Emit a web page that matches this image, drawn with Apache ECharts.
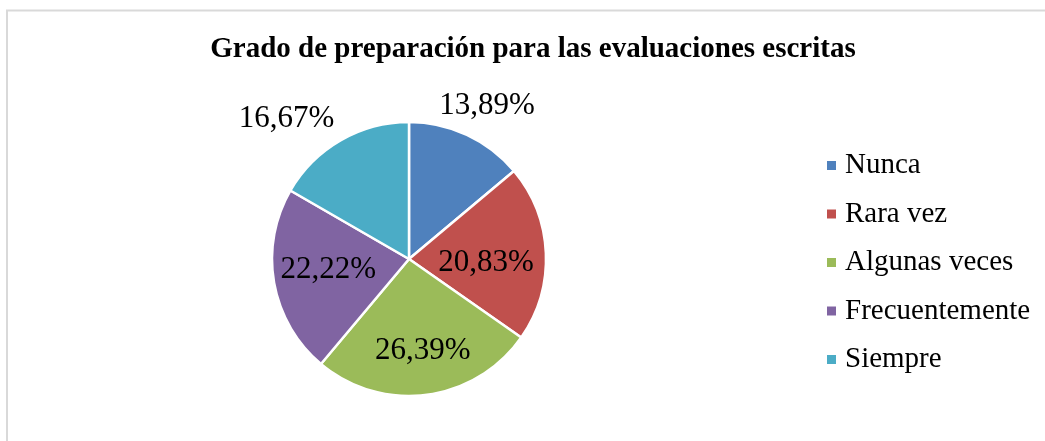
<!DOCTYPE html>
<html><head><meta charset="utf-8">
<script src="https://cdn.jsdelivr.net/npm/echarts@6/dist/echarts.min.js"></script>
<style>html,body{margin:0;padding:0;background:#fff}#c{width:1045px;height:441px}</style>
</head><body><div id="c"></div>
<script>
const titleText = 'Grado de preparación para las evaluaciones escritas';
const categories = ['Nunca', 'Rara vez', 'Algunas veces', 'Frecuentemente', 'Siempre'];
const values = [13.89, 20.83, 26.39, 22.22, 16.67];
const colors = ['#4f81bd', '#c0504d', '#9bbb59', '#8064a2', '#4bacc6'];
const insideLabels = ['Rara vez', 'Algunas veces', 'Frecuentemente'];
const outsideLabels = ['Nunca', 'Siempre'];
const labelOffsets = { 'Rara vez': [-6, 7], 'Algunas veces': [3, 10], 'Frecuentemente': [1, -4], 'Nunca': [5, 4], 'Siempre': [-36, 10] };

const serif = '"Liberation Serif", "Times New Roman", serif';
const fmt = p => p.value.toFixed(2).replace('.', ',') + '%';
const center = [409, 259];

function labelSeries(radius, names) {
  return {
    type: 'pie', radius: radius, center: center, silent: true, z: 5,
    startAngle: 90, clockwise: true, avoidLabelOverlap: false,
    itemStyle: { color: 'transparent', borderWidth: 0 },
    emphasis: { disabled: true },
    labelLine: { show: false },
    data: categories.map((n, i) => ({
      name: n, value: values[i],
      label: {
        show: names.includes(n), position: 'inside',
        formatter: fmt, fontFamily: serif, fontSize: 31, color: '#000',
        offset: labelOffsets[n] || [0, 0]
      }
    }))
  };
}

const chart = echarts.init(document.getElementById('c'), null, { renderer: 'canvas' });
chart.setOption({
  animation: false,
  backgroundColor: '#fff',
  graphic: [{
    type: 'rect', z: 0, silent: true,
    shape: { x: 7, y: 10.5, width: 1100, height: 500 },
    style: { fill: 'none', stroke: '#d9d9d9', lineWidth: 2 }
  }],
  title: {
    text: titleText, left: 533, top: 35, textAlign: 'center', padding: 0,
    textStyle: { fontFamily: serif, fontWeight: 'bold', fontSize: 29, color: '#000' }
  },
  legend: {
    orient: 'vertical', left: 825, top: 151, padding: 0,
    itemWidth: 11, itemHeight: 11, itemGap: 19.5,
    icon: 'rect',
    data: categories,
    textStyle: { fontFamily: serif, fontSize: 29, color: '#000', lineHeight: 28, padding: [0, 0, 0, 3] }
  },
  series: [
    {
      type: 'pie', radius: 137, center: center, startAngle: 90, clockwise: true,
      itemStyle: { borderColor: '#fff', borderWidth: 2.5 },
      label: { show: false }, labelLine: { show: false },
      emphasis: { disabled: true },
      data: categories.map((n, i) => ({ name: n, value: values[i], itemStyle: { color: colors[i] } }))
    },
    labelSeries([23, 137], insideLabels),
    labelSeries([150, 190], outsideLabels)
  ]
});
</script></body></html>
